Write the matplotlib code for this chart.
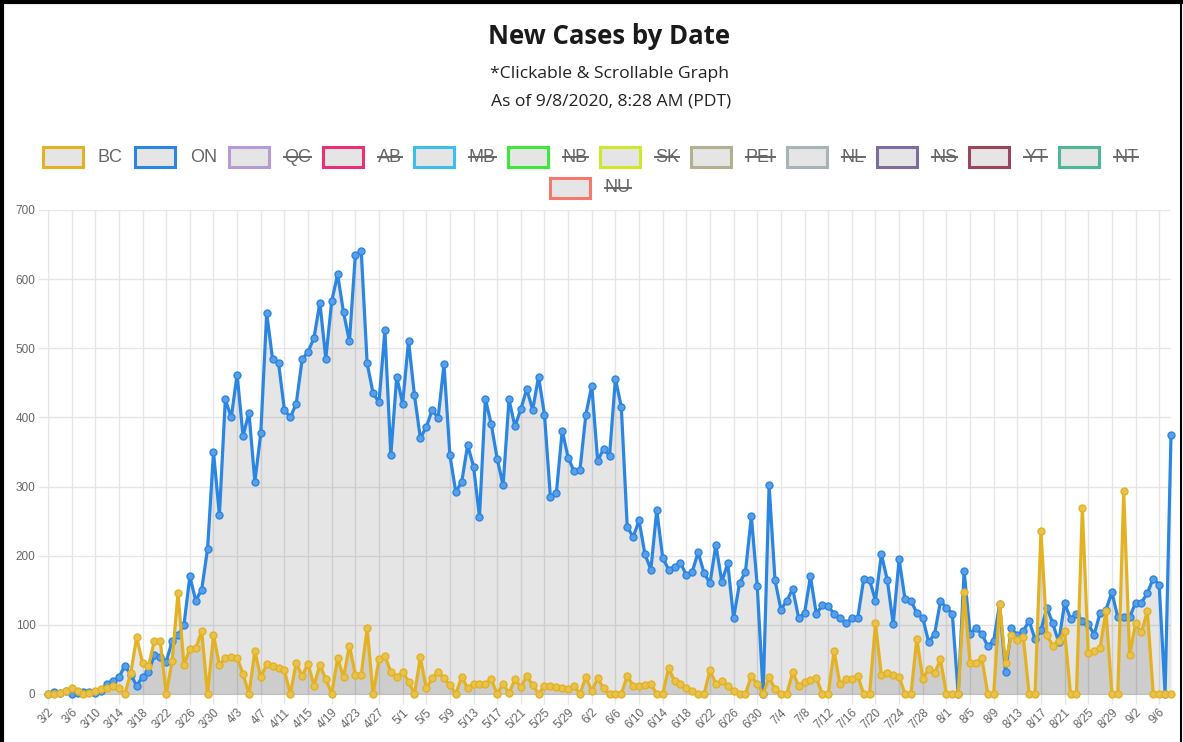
import matplotlib
matplotlib.use("Agg")
import matplotlib.pyplot as plt
from matplotlib.patches import Rectangle
from matplotlib.lines import Line2D
import pandas as pd

# --- data (3/2/2020 .. 9/8/2020, one value per day) ---
dates = pd.date_range("2020-03-02", "2020-09-08", freq="D")
date_labels = [f"{d.month}/{d.day}" for d in dates]

bc_cases = [
    0, 0, 1, 4, 8, 5, 0, 1, 5, 7,
    9, 12, 8, 0, 30, 82, 45, 40, 77, 76, 0, 48, 146, 42,
    65, 66, 91, 0, 85, 42, 52, 53, 52, 29, 0, 62, 24, 43, 41, 37, 34, 0, 45, 26,
    44, 12, 42, 22, 0, 52, 24, 70, 28, 28, 95, 0, 50, 55,
    32, 24, 32, 18, 0, 53, 8, 23, 32, 23, 13, 0, 25, 8, 15, 15, 15, 21, 0, 15,
    1, 21, 10, 26, 13, 0, 12, 11, 10, 8, 7, 12, 0,
    25, 4, 23, 8, 0, 0, 0, 26, 12, 12, 13, 14, 0, 0, 37, 19, 14, 8, 5, 0,
    0, 34, 15, 19, 12, 5, 0, 0, 26, 14, 0, 24,
    7, 0, 0, 32, 11, 18, 20, 23, 0, 0, 62, 14, 21, 21, 26, 0, 0, 102, 27, 31,
    27, 25, 0, 0, 80, 22, 36, 30, 50, 0, 0, 0,
    147, 45, 45, 52, 0, 0, 130, 45, 86, 78, 83, 0, 0, 236, 85, 70, 77, 91, 0, 0,
    269, 59, 62, 67, 120, 0, 0, 293, 56, 102, 89, 120, 0, 0, 0, 0,
]

on_cases = [
    0, 3, 2, 4, 0, 2, 3, 3, 2, 5,
    15, 19, 24, 41, 28, 12, 25, 32, 56, 54, 47, 76, 85, 100,
    170, 135, 151, 210, 350, 259, 426, 400, 462, 373, 407, 307, 377, 551, 484, 479,
    411, 400, 420, 484, 495, 515, 566, 485, 568, 607, 552, 510, 635, 640, 478, 435, 422, 526,
    345, 459, 420, 511, 432, 370, 386, 411, 399, 477, 345, 292, 307, 360, 329, 256,
    427, 390, 340, 302, 426, 387, 412, 441, 411, 459, 404, 285, 290, 381, 342, 322, 324,
    404, 446, 337, 355, 344, 456, 415, 242, 227, 251, 202, 180, 266, 197, 180, 184,
    190, 172, 177, 205, 175, 160, 216, 162, 189, 110, 160, 177, 257, 156, 0, 302,
    165, 122, 135, 152, 110, 117, 170, 115, 129, 127, 116, 110, 102, 110, 110, 166,
    165, 135, 202, 165, 101, 195, 137, 135, 117, 110, 75, 87, 134, 125, 116, 0,
    178, 87, 95, 87, 69, 77, 130, 32, 95, 85, 91, 106, 79, 92, 125, 102, 75, 131,
    109, 115, 106, 101, 86, 117, 122, 147, 111, 111, 111, 132, 132, 146, 167, 158, 0, 375,
]

y_ticks = [0, 100, 200, 300, 400, 500, 600, 700]

legend_labels = ["BC", "ON", "QC", "AB", "MB", "NB", "SK", "PEI", "NL", "NS", "YT", "NT", "NU"]
legend_colors = ["#e3b223", "#2b86e2", "#b49bd6", "#ea2f78", "#3cbfea", "#3de83d",
                 "#cfe829", "#b2b090", "#a8b3b7", "#7d6d9e", "#99465d", "#4db892", "#f2796b"]
legend_hidden = [False, False] + [True] * 11

W, H = 1183, 742
GRID = "#e6e6e6"
TEXT = "#666666"
FILL = (0, 0, 0, 0.1)


def px(x, y):
    """Pixel position (top-left origin) -> figure fraction."""
    return x / W, 1 - y / H


fig = plt.figure(figsize=(W / 100, H / 100), dpi=100)
fig.patch.set_facecolor("white")

# --- plot area ---
ax = fig.add_axes([48 / W, (H - 694) / H, (1171 - 48) / W, (694 - 210) / H])
x = list(range(len(dates)))

ax.fill_between(x, on_cases, 0, color=FILL, linewidth=0, zorder=1)
ax.fill_between(x, bc_cases, 0, color=FILL, linewidth=0, zorder=1)
ax.plot(x, on_cases, color=legend_colors[1], lw=2.3, marker="o", ms=5,
        mfc="#5a9fe6", mec=legend_colors[1], mew=1, zorder=3, clip_on=False)
ax.plot(x, bc_cases, color=legend_colors[0], lw=2.3, marker="o", ms=5,
        mfc="#e8c24e", mec=legend_colors[0], mew=1, zorder=4, clip_on=False)

ax.set_xlim(0, len(dates) - 1)
ax.set_ylim(0, 700)
tick_pos = x[::4]
ax.set_xticks(tick_pos)
ax.set_xticklabels([date_labels[i] for i in tick_pos], rotation=45, ha="right",
                   va="top", rotation_mode="anchor")
ax.set_yticks(y_ticks)
ax.set_yticklabels([str(v) for v in y_ticks])
for lab in ax.get_xticklabels() + ax.get_yticklabels():
    lab.set_fontfamily("Liberation Sans")
    lab.set_fontsize(8.5)
    lab.set_color(TEXT)
ax.tick_params(axis="both", length=7, width=1, color=GRID, pad=2)
ax.grid(True, color=GRID, linewidth=1, zorder=0)
ax.set_axisbelow(True)
for side in ["top", "right"]:
    ax.spines[side].set_visible(False)
ax.spines["left"].set_color(GRID)
ax.spines["bottom"].set_color("#bfbfbf")
ax.set_facecolor("white")

# --- titles ---
fig.text(*px(609, 36), "New Cases by Date", ha="center", va="center",
         fontsize=18.5, fontweight="bold", family="Open Sans", color="#1a1a1a")
fig.text(*px(609, 74), "*Clickable & Scrollable Graph", ha="center", va="center",
         fontsize=12.6, family="Open Sans", color="#222222")
fig.text(*px(611, 101), "As of 9/8/2020, 8:28 AM (PDT)", ha="center", va="center",
         fontsize=12.6, family="Open Sans", color="#222222")

# --- legend (Chart.js style, hidden datasets struck through) ---
renderer = fig.canvas.get_renderer()
box_w, box_h, gap, pad = 40, 20, 15, 12
widths = []
for lab in legend_labels:
    t = fig.text(0, 0, lab, fontsize=13, family="Liberation Sans")
    widths.append(t.get_window_extent(renderer).width)
    t.remove()

rows = [list(range(12)), [12]]
row_y = [157, 188]
for row, cy in zip(rows, row_y):
    total = sum(box_w + gap + widths[i] for i in row) + pad * (len(row) - 1)
    cx = (W - total) / 2 - 1
    for i in row:
        bx, by = px(cx, cy + box_h / 2)
        fig.patches.append(Rectangle((bx, by), box_w / W, box_h / H, transform=fig.transFigure,
                                     facecolor=FILL, edgecolor=legend_colors[i], linewidth=2.2))
        tx = cx + box_w + gap
        fig.text(*px(tx, cy), legend_labels[i], ha="left", va="center", fontsize=13,
                 family="Liberation Sans", color=TEXT)
        if legend_hidden[i]:
            x0, y0 = px(tx, cy)
            x1, _ = px(tx + widths[i], cy)
            fig.lines.append(Line2D([x0, x1], [y0, y0], transform=fig.transFigure,
                                    color=TEXT, linewidth=1.4))
        cx = tx + widths[i] + pad

# --- screenshot frame ---
for xs, ys, lw in [([1.5, 1.5], [0, H], 3), ([0, W], [1.5, 1.5], 3), ([1180.5, 1180.5], [0, H], 1.5)]:
    fig.lines.append(Line2D([v / W for v in xs], [1 - v / H for v in ys],
                            transform=fig.transFigure, color="black", linewidth=lw))

fig.savefig("out.png", dpi=100)
